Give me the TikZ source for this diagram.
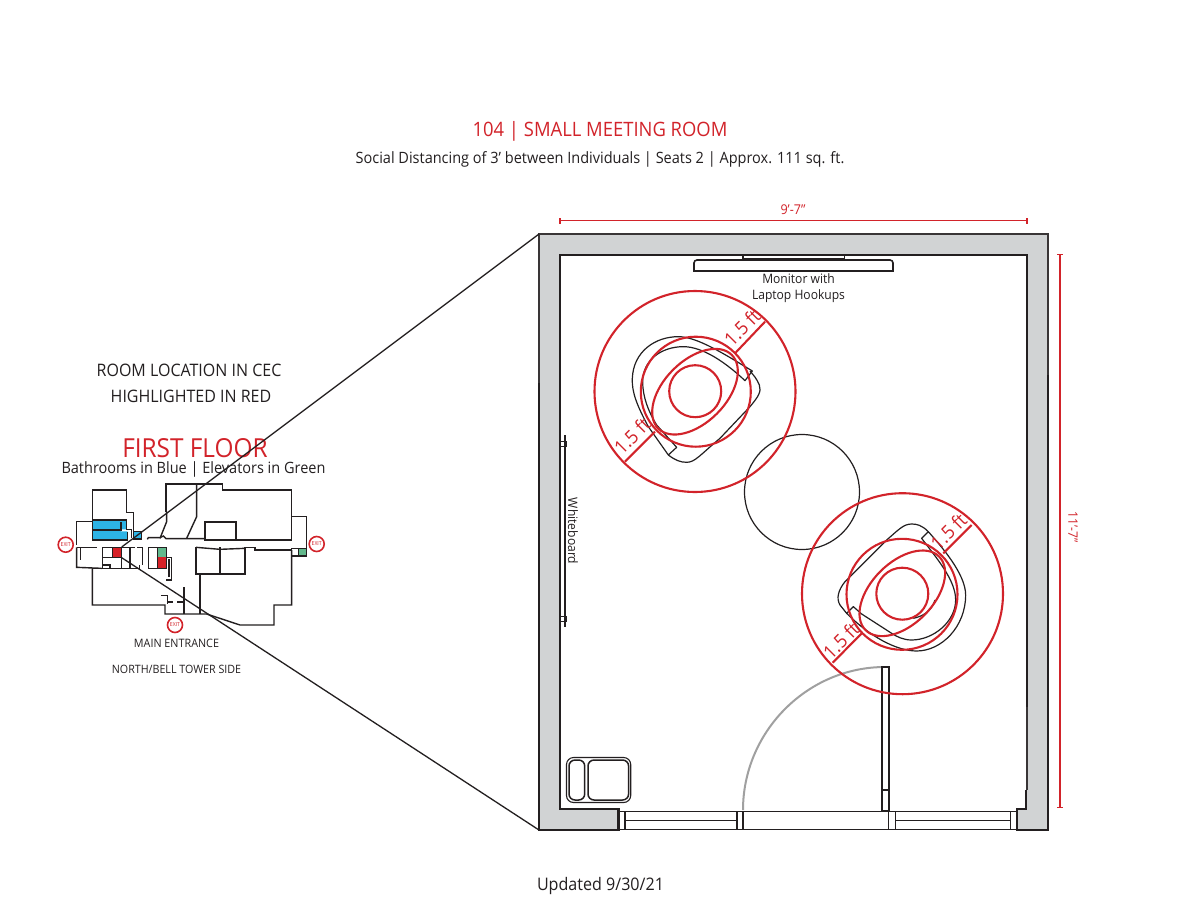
\documentclass[tikz,border=0pt]{standalone}
\usepackage{fontspec}
\setmainfont{Open Sans}[FakeStretch=0.93]
\definecolor{rd}{HTML}{D2232A}
\definecolor{wl}{HTML}{D1D3D4}
\definecolor{ink}{HTML}{231F20}
\definecolor{blu}{HTML}{2DB4E6}
\definecolor{grn}{HTML}{62B88C}
\definecolor{arcg}{HTML}{A0A0A0}
\tikzset{
 lbl/.style={inner sep=0pt,text=ink},
 rlbl/.style={inner sep=0pt,text=rd},
 wallline/.style={draw=ink,line width=2.2pt},
 thinwall/.style={draw=ink!90,line width=1.4pt},
 dim/.style={draw=rd,line width=1.2pt},
 redc/.style={draw=rd,line width=2.1pt},
 chair/.style={draw=ink,line width=1.2pt,line join=round},
 plan/.style={draw=ink,line width=1.4pt},
 exitc/.style={circle,draw=rd,line width=1.6pt,fill=white,minimum size=15pt,inner sep=0pt,text=rd,font=\fontsize{5.5}{6}\selectfont},
 persp/.style={draw=ink,line width=1.3pt},
}
\begin{document}
\begin{tikzpicture}[x=1pt,y=-1pt]
\useasboundingbox (0,0) rectangle (1200,914);
\fill[white] (0,0) rectangle (1200,914);
% texts
\node[rlbl,font=\fontsize{19.8}{22}\selectfont] (title) at (600,131.5) {104 | SMALL MEETING ROOM};
\node[lbl,font=\fontsize{15.6}{18}\selectfont] (sub) at (600,159.5) {Social Distancing of 3’ between Individuals | Seats 2 | Approx. 111 sq. ft.};
\node[lbl,font=\fontsize{17.2}{20}\selectfont] (loc1) at (189,370.5) {ROOM LOCATION IN CEC};
\node[lbl,font=\fontsize{17.2}{20}\selectfont] (loc2) at (191,396.5) {HIGHLIGHTED IN RED};
\node[rlbl,font=\fontsize{26.2}{28}\selectfont] (ff) at (195,448) {FIRST FLOOR};
\node[lbl,font=\fontsize{15.6}{18}\selectfont] (bath) at (193.5,469.5) {Bathrooms in Blue | Elevators in Green};
\node[lbl,font=\fontsize{11.6}{13}\selectfont] (me) at (176.5,643.5) {MAIN ENTRANCE};
\node[lbl,font=\fontsize{11.5}{13}\selectfont] (nb) at (176.5,669.5) {NORTH/BELL TOWER SIDE};
\node[lbl,font=\fontsize{17.3}{19}\selectfont] (upd) at (600.5,886) {Updated 9/30/21};
% room walls
\fill[wl] (539,234) rectangle (1048,830);
\fill[white] (560,255) rectangle (1027,809);
\fill[white] (618.5,809) rectangle (1017,830);
\draw[thinwall] (539,383) -- (539,234) -- (1048,234) -- (1048,375);
\draw[wallline] (539,383) -- (539,830) -- (618.5,830) -- (618.5,809) -- (560,809) -- (560,255) -- (1027,255) -- (1027,707);
\draw[thinwall] (1027,707) -- (1027,790);
\draw[wallline] (1026,790) -- (1026,809) -- (1017,809) -- (1017,830) -- (1048,830) -- (1048,375);
% monitor
\draw[draw=ink,line width=1.6pt,fill=white] (694,271) -- (694,263) [rounded corners=3pt] -- (694,260) -- (893,260) [sharp corners] -- (893,271) -- cycle;
\draw[draw=ink,line width=1.5pt,fill=white] (743,255) rectangle (844.5,258.5);
\node[lbl,font=\fontsize{13}{15}\selectfont] (mon1) at (798.5,279) {Monitor with};
\node[lbl,font=\fontsize{13}{15}\selectfont] (mon2) at (798.5,296) {Laptop Hookups};
% whiteboard
\draw[draw=ink,line width=1.9pt] (564.7,435) -- (564.7,627);
\draw[draw=ink,line width=1.2pt] (560,441.5) rectangle (566.5,446.5);
\draw[draw=ink,line width=1.2pt] (560,616.5) rectangle (566.5,621.5);
\node[lbl,rotate=-90,font=\fontsize{13}{15}\selectfont] (wb) at (573,531) {Whiteboard};
% bottom windows and door
\draw[draw=ink,line width=1.8pt] (618.5,811.5) -- (1017,811.5);
\draw[draw=ink,line width=1.7pt] (618.5,829.5) -- (1017,829.5);
\draw[draw=ink,line width=1.8pt] (625,811.5) -- (625,829.5);
\draw[draw=ink,line width=1.8pt] (737,811.5) -- (737,829.5);
\draw[draw=ink,line width=1.8pt] (743,811.5) -- (743,829.5);
\draw[draw=ink,line width=1.8pt] (625,820.5) -- (737,820.5);
\draw[draw=ink,line width=1.8pt] (888.5,811.5) -- (888.5,829.5);
\draw[draw=ink,line width=1.8pt] (895.5,811.5) -- (895.5,829.5);
\draw[draw=ink,line width=1.8pt] (895.5,820.5) -- (1010.5,820.5);
\draw[draw=ink,line width=1.8pt] (1010.5,811.5) -- (1010.5,829.5);
\draw[draw=arcg,line width=2pt] (743,810) .. controls (743,732) and (807,667) .. (885,667);
\draw[draw=ink,line width=2pt,fill=white] (882,667) rectangle (888.5,811);
\draw[draw=ink,line width=1.4pt] (882,790) -- (888.5,790);
% side table
\draw[draw=ink,line width=1.1pt,rounded corners=7pt] (566.5,757.5) rectangle (630.7,802.5);
\draw[draw=ink,line width=1.5pt,rounded corners=6pt] (569,760) rectangle (584.7,800);
\draw[draw=ink,line width=1.5pt,rounded corners=6pt] (588,760) rectangle (628.6,800);
% table
\draw[chair] (802,492) circle[radius=57.5];
% upper chair
\begin{scope}[shift={(590,285)},x=0.3333pt,y=-0.3333pt]
\draw[chair] (235,510) -- (175,425) .. controls (140,360) and (125,320) .. (127,280) .. controls (130,200) and (195,155) .. (265,155) .. controls (320,155) and (400,205) .. (487,258) -- (465,287) .. controls (410,235) and (340,185) .. (280,185) .. controls (215,185) and (158,225) .. (158,290) .. controls (158,335) and (175,380) .. (200,420) -- (260,487) -- cycle;
\draw[chair] (235,510) .. controls (255,525) and (270,532) .. (290,532) .. controls (315,532) and (330,510) .. (390,460) -- (480,365) .. controls (505,335) and (515,320) .. (508,300) .. controls (500,280) and (490,270) .. (480,258);
\end{scope}
% lower chair
\begin{scope}[shift={(800,490)},x=0.3333pt,y=-0.3333pt]
\draw[chair] (385,125) .. controls (365,105) and (350,102) .. (335,102) .. controls (310,102) and (295,120) .. (260,150) -- (135,275) .. controls (115,300) and (108,325) .. (120,345) -- (140,370);
\draw[chair] (385,125) .. controls (420,165) and (497,250) .. (497,315) .. controls (497,410) and (425,483) .. (350,483) .. controls (290,483) and (210,440) .. (140,370) -- (160,350) -- (185,372) -- (275,430) .. controls (290,440) and (310,450) .. (335,450) .. controls (400,450) and (467,395) .. (467,330) .. controls (467,270) and (410,205) .. (365,145) -- cycle;
\draw[chair] (405,330) .. controls (395,365) and (365,380) .. (340,385);
\end{scope}
% red circles, upper
\draw[redc] (695,391.5) circle[radius=100.5];
\draw[redc] (695.8,391.7) circle[radius=55];
\draw[redc] (695.2,391.2) circle[radius=26];
\draw[redc,rotate around={45:(695,391.7)}] (695,391.7) ellipse[x radius=52,y radius=31];
\draw[redc] (765,321.7) -- (735,353.3) (625,461.7) -- (655,431.7);
\node[rlbl,rotate=45,font=\fontsize{19}{21}\selectfont] (ft1) at (742,327.5) {1.5 ft};
\node[rlbl,rotate=45,font=\fontsize{19}{21}\selectfont] (ft2) at (632,436) {1.5 ft};
% red circles, lower
\draw[redc] (902.5,593.7) circle[radius=100.5];
\draw[redc] (902,594.3) circle[radius=55.5];
\draw[redc] (902.3,593.7) circle[radius=26];
\draw[redc,rotate around={45:(902.3,593.3)}] (902.3,593.3) ellipse[x radius=52,y radius=31];
\draw[redc] (971.7,525) -- (943.3,553.3) (832.7,662.7) -- (861.7,633.3);
\node[rlbl,rotate=45,font=\fontsize{19}{21}\selectfont] (ft3) at (948.5,531.5) {1.5 ft};
\node[rlbl,rotate=45,font=\fontsize{19}{21}\selectfont] (ft4) at (841,640.5) {1.5 ft};
% dimensions
\draw[dim] (560,220.7) -- (1027,220.7);
\draw[dim] (560,218) -- (560,223.5) (1027,218) -- (1027,223.5);
\node[rlbl,font=\fontsize{13.5}{15}\selectfont] (w) at (793,210) {9’-7”};
\draw[dim] (1060,254.5) -- (1060,807.5);
\draw[dim] (1057,254.5) -- (1063,254.5) (1057,807.5) -- (1063,807.5);
\node[rlbl,rotate=-90,font=\fontsize{13}{15}\selectfont] (h) at (1073,527) {11’-7”};
% floor plan, in zoom units
\begin{scope}[shift={(50,470)},x=0.3333pt,y=-0.3333pt]
\fill[blu] (127,150) -- (230,150) -- (230,178) -- (213,178) -- (213,184) -- (232,184) -- (232,210) -- (127,210) -- cycle;
\fill[blu] (250,185) rectangle (275,207);
\fill[rd!90!red] (187,232) rectangle (215,263);
\fill[rd!90!red] (322,262) rectangle (350,295);
\fill[grn] (322,232) rectangle (350,262);
\fill[grn] (745,235) rectangle (768,255);
\draw[plan] (127,150) -- (230,150) -- (230,178) -- (245,178) -- (245,205);
\draw[plan] (127,180) -- (213,180) -- (213,155);
\draw[plan] (127,210) -- (232,210) -- (232,185);
\draw[plan] (127,210) -- (127,60) -- (230,60) -- (230,128) -- (250,128) -- (250,207) -- (275,207) -- (275,185) -- (250,185);
\draw[plan] (348,125) -- (348,42) -- (518,42) -- (518,60) -- (725,60) -- (725,210) -- (465,210) -- (465,156) -- (558,156) -- (558,210);
\draw[plan] (440,42) -- (440,140) -- (410,205);
\draw[plan] (350,125) -- (350,155) -- (330,205);
\draw[plan] (292,208) -- (295,203) -- (330,203) -- (340,198) -- (348,206) -- (465,206);
\draw[plan] (127,155) -- (80,155) -- (80,225);
\draw[plan] (80,232) -- (140,232);
\draw[plan] (80,232) -- (80,292) -- (155,295);
\draw[plan] (92,232) -- (92,270);
\draw[plan] (158,232) -- (240,232) -- (240,295) -- (127,295);
\draw[plan] (158,232) -- (158,295);
\draw[plan] (158,263) -- (215,263) -- (215,295);
\draw[plan] (158,285) -- (180,285) -- (180,295);
\draw[plan] (187,232) -- (187,263);
\draw[plan] (215,232) -- (215,263);
\draw[plan] (240,295) -- (268,295) -- (268,285);
\draw[plan] (240,232) -- (255,232) (262,232) -- (278,232) -- (278,285);
\draw[plan] (295,232) -- (350,232) -- (350,262);
\draw[plan] (295,232) -- (295,295) -- (322,295);
\draw[plan] (322,232) rectangle (350,295);
\draw[plan] (350,262) -- (365,262) -- (365,330) -- (348,330);
\draw[plan] (357,268) -- (357,322);
\draw[plan] (127,295) -- (127,405) -- (345,405) -- (345,432) -- (470,432) -- (570,465) -- (672,465) -- (672,405) -- (725,405) -- (725,240);
\draw[plan] (450,312) -- (450,432);
\draw[plan] (438,232) -- (438,312) -- (585,312) -- (585,232) -- (615,232) -- (615,240) -- (725,240);
\draw[plan] (438,232) -- (510,238) -- (585,235);
\draw[plan] (510,232) -- (510,312);
\draw[plan] (402,352) -- (402,432);
\draw[plan] (333,376) -- (352,376) -- (352,402);
\draw[plan] (352,396) -- (368,396) (382,396) -- (402,396);
\draw[plan] (725,140) -- (770,140) -- (770,258) -- (725,258) -- (725,235) -- (768,235);
\draw[plan] (745,235) -- (745,258);
\end{scope}
\node[exitc] (ex1) at (65.7,544.7) {EXIT};
\node[exitc] (ex2) at (316.7,544) {EXIT};
\node[exitc] (ex3) at (175,625) {EXIT};
% perspective lines
\coordinate (ptop) at (539,234);
\coordinate (pbot) at (539,830);
\coordinate (rmt) at (121.7,547);
\coordinate (rmb) at (121.7,557.7);
\draw[persp] (ptop) -- (rmt);
\draw[persp] (pbot) -- (rmb);
\end{tikzpicture}
\end{document}
